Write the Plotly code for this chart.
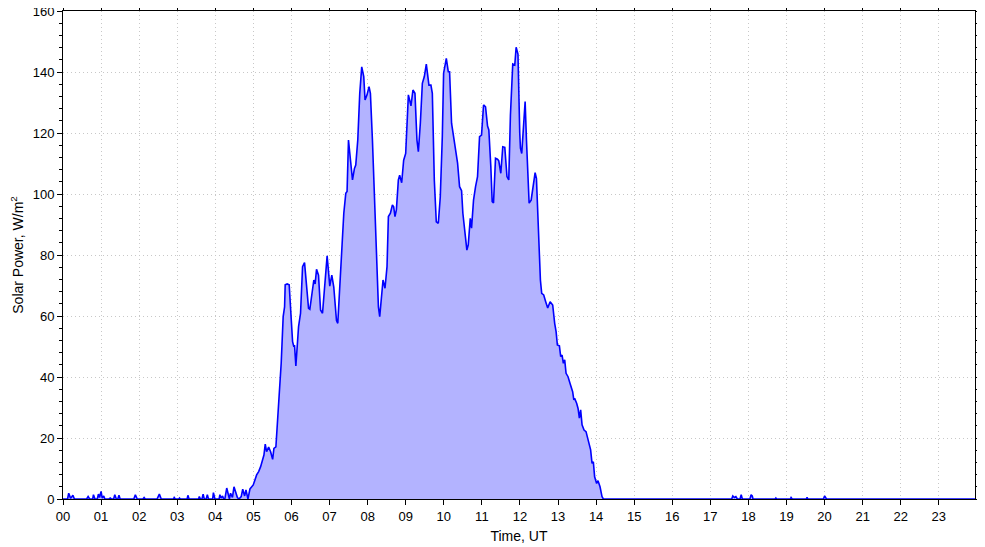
import plotly.graph_objects as go

# Time of day (hours, UT) and solar power (W/m^2)
time_h = [
    0.00, 0.12, 0.15, 0.20, 0.26, 0.30, 0.62, 0.66, 0.70, 0.78, 0.80, 0.84, 0.90, 0.93, 0.96,
    1.00, 1.03, 1.07, 1.10, 1.21, 1.24, 1.27, 1.33, 1.36, 1.40, 1.44, 1.47, 1.50, 1.86, 1.90,
    1.95, 2.10, 2.13, 2.16, 2.47, 2.53, 2.58, 2.90, 2.92, 2.95, 3.04, 3.06, 3.08, 3.26, 3.28,
    3.31, 3.56, 3.58, 3.61, 3.65, 3.68, 3.71, 3.76, 3.79, 3.82, 3.93, 3.95, 3.99, 4.10, 4.12,
    4.15, 4.19, 4.22, 4.25, 4.30, 4.37, 4.40, 4.45, 4.49, 4.58, 4.62, 4.68, 4.72, 4.77, 4.805,
    4.857, 4.91, 4.996, 5.085, 5.138, 5.19, 5.224, 5.277, 5.311, 5.347, 5.40, 5.452, 5.505, 5.539,
    5.591, 5.643, 5.696, 5.73, 5.782, 5.819, 5.835, 5.887, 5.94, 5.976, 6.029, 6.063, 6.08,
    6.115, 6.186, 6.238, 6.291, 6.343, 6.396, 6.448, 6.482, 6.535, 6.587, 6.621, 6.658, 6.71,
    6.763, 6.815, 6.868, 6.936, 7.006, 7.059, 7.111, 7.182, 7.216, 7.269, 7.321, 7.374, 7.426,
    7.46, 7.497, 7.549, 7.602, 7.654, 7.688, 7.741, 7.793, 7.845, 7.898, 7.932, 7.984, 8.037,
    8.073, 8.126, 8.178, 8.231, 8.283, 8.317, 8.351, 8.404, 8.456, 8.509, 8.545, 8.598, 8.65,
    8.684, 8.718, 8.755, 8.807, 8.841, 8.894, 8.946, 8.999, 9.033, 9.07, 9.104, 9.138, 9.19,
    9.243, 9.295, 9.332, 9.384, 9.437, 9.489, 9.541, 9.61, 9.662, 9.699, 9.751, 9.803, 9.856,
    9.908, 9.961, 9.995, 10.066, 10.118, 10.152, 10.204, 10.257, 10.309, 10.362, 10.414, 10.467,
    10.501, 10.553, 10.606, 10.642, 10.695, 10.729, 10.781, 10.834, 10.886, 10.939, 10.991,
    11.044, 11.096, 11.149, 11.183, 11.235, 11.271, 11.306, 11.358, 11.41, 11.444, 11.497,
    11.549, 11.602, 11.659, 11.706, 11.75, 11.811, 11.864, 11.90, 11.948, 11.995, 12.013,
    12.047, 12.084, 12.136, 12.171, 12.205, 12.241, 12.294, 12.346, 12.398, 12.433, 12.467,
    12.503, 12.537, 12.571, 12.624, 12.676, 12.729, 12.792, 12.86, 12.912, 12.949, 12.983,
    13.036, 13.07, 13.106, 13.14, 13.175, 13.211, 13.263, 13.316, 13.384, 13.415, 13.436,
    13.489, 13.526, 13.56, 13.594, 13.631, 13.683, 13.735, 13.788, 13.822, 13.856, 13.893,
    13.927, 13.961, 14.014, 14.05, 14.103, 14.155, 14.19, 17.56, 17.59, 17.63, 17.67, 17.71,
    17.78, 17.81, 17.84, 18.04, 18.07, 18.10, 18.12, 18.70, 18.72, 18.74, 19.10, 19.12, 19.15,
    19.52, 19.54, 19.56, 19.97, 20.00, 20.03, 20.05, 23.95,
]
power_w = [
    0, 0, 1.9, 0.2, 1.2, 0, 0, 0.8, 0, 0, 1.4, 0, 0, 1.6, 0.5,
    2.5, 0.3, 1.0, 0, 0, 0.3, 0, 0, 1.4, 0, 0, 1.2, 0, 0, 1.4,
    0, 0, 0.5, 0, 0, 1.6, 0, 0, 0.5, 0, 0, 0.3, 0, 0, 1.2,
    0, 0, 0.8, 0, 0, 1.6, 0, 0, 1.4, 0, 0, 2.1, 0, 0, 1.4,
    0.3, 1.0, 0, 0, 3.6, 0, 1.9, 0.5, 4.0, 0.5, 0, 0.8, 3.2, 1.0, 3.0,
    0, 3.3, 4.6, 7.9, 9.0, 10.6, 11.9, 14.4, 18.0, 15.5, 17.0, 15.5, 13.0, 16.6,
    17.1, 27.0, 37.9, 44.5, 59.8, 63.0, 70.2, 70.5, 70.2, 62.0, 51.6, 49.9, 50.5,
    43.6, 56.5, 60.9, 76.2, 77.5, 69.6, 62.5, 62.2, 68.0, 71.8, 70.5, 75.3, 73.4,
    62.0, 60.9, 68.5, 79.7, 69.8, 73.4, 69.5, 58.5, 57.6, 70.7, 80.6, 93.7, 100.2,
    100.8, 117.7, 111.1, 104.6, 108.4, 109.5, 117.7, 133.0, 141.7, 138.5, 130.8, 132.5, 135.2,
    133.0, 117.7, 101.3, 81.6, 63.0, 59.8, 64.2, 71.8, 69.1, 76.2, 92.6, 93.7, 96.4,
    95.8, 92.6, 94.8, 104.6, 106.2, 103.7, 111.1, 113.3, 123.2, 132.5, 130.8, 128.9, 134.1,
    133.0, 117.7, 113.9, 123.2, 136.3, 138.5, 142.6, 135.7, 135.7, 133.0, 104.6, 90.9, 90.4,
    99.1, 118.8, 139.6, 144.5, 140.1, 140.1, 123.2, 118.8, 113.3, 110.1, 102.4, 101.1,
    93.7, 88.2, 81.6, 83.3, 92.0, 88.8, 98.0, 102.4, 105.7, 118.8, 119.3,
    129.2, 128.6, 122.3, 121.0, 109.0, 97.5, 97.1, 111.7, 111.4, 110.9, 106.8,
    115.5, 115.3, 105.7, 104.6, 125.9, 142.6, 142.3, 148.1, 145.9, 119.9, 115.0,
    113.3, 121.0, 130.3, 117.7, 104.6, 97.0, 98.0, 102.4, 107.0, 105.1, 92.6,
    79.4, 71.8, 67.4, 66.9, 64.7, 62.6, 64.7, 63.6, 57.6, 54.9, 50.5,
    50.2, 46.7, 47.2, 44.5, 45.6, 41.2, 40.1, 37.9, 35.2, 32.5, 33.0,
    31.4, 29.7, 26.5, 29.2, 24.3, 22.6, 22.1, 19.3, 18.3, 16.1, 11.7,
    12.2, 7.3, 5.1, 6.0, 4.0, 0.8, 0, 0, 1.0, 0.5, 0.8, 0,
    0, 1.4, 0, 0, 1.4, 1.0, 0, 0, 0.3, 0, 0, 0.5, 0,
    0, 0.5, 0, 0, 1.0, 0.5, 0, 0,
]

hour_ticks = list(range(24))
hour_labels = [f"{h:02d}" for h in hour_ticks]
power_ticks = [0, 20, 40, 60, 80, 100, 120, 140, 160]

fig = go.Figure()
fig.add_trace(go.Scatter(
    x=time_h, y=power_w, mode="lines",
    line=dict(color="#0000ff", width=1.6),
    fill="tozeroy", fillcolor="#b3b3ff",
    hoverinfo="skip", showlegend=False,
))

FAMILY = "Liberation Sans"
tick_font = dict(family=FAMILY, size=13, color="#000000")
title_font = dict(family=FAMILY, size=14, color="#000000")

fig.update_layout(
    width=985, height=547,
    margin=dict(l=55, r=18, t=3, b=56, autoexpand=False),
    paper_bgcolor="white", plot_bgcolor="white",
    font=dict(family=FAMILY, size=13, color="#000000"),
    showlegend=False,
)
fig.update_xaxes(
    range=[0, 23.95], automargin=False,
    tickmode="array", tickvals=hour_ticks, ticktext=hour_labels,
    ticks="outside", ticklen=5, tickwidth=1, tickcolor="#000",
    showline=True, linecolor="#000", linewidth=1, mirror="allticks",
    showgrid=True, gridcolor="#c8c8c8", griddash="1px,3px", gridwidth=1,
    zeroline=False, ticklabeloverflow="allow",
    title=dict(text="Time, UT", standoff=8, font=title_font),
    tickfont=tick_font,
)
fig.update_yaxes(
    range=[0, 160], automargin=False,
    tickmode="array", tickvals=power_ticks,
    ticks="outside", ticklen=5, tickwidth=1, tickcolor="#000",
    minor=dict(dtick=4, ticks="outside", ticklen=3, tickcolor="#000", showgrid=False),
    showline=True, linecolor="#000", linewidth=1, mirror="allticks",
    showgrid=True, gridcolor="#c8c8c8", griddash="1px,3px", gridwidth=1,
    zeroline=False, ticklabeloverflow="allow",
    title=dict(text="Solar Power, W/m<sup>2</sup>", standoff=10, font=title_font),
    tickfont=tick_font,
)

fig.write_html("out.html")
